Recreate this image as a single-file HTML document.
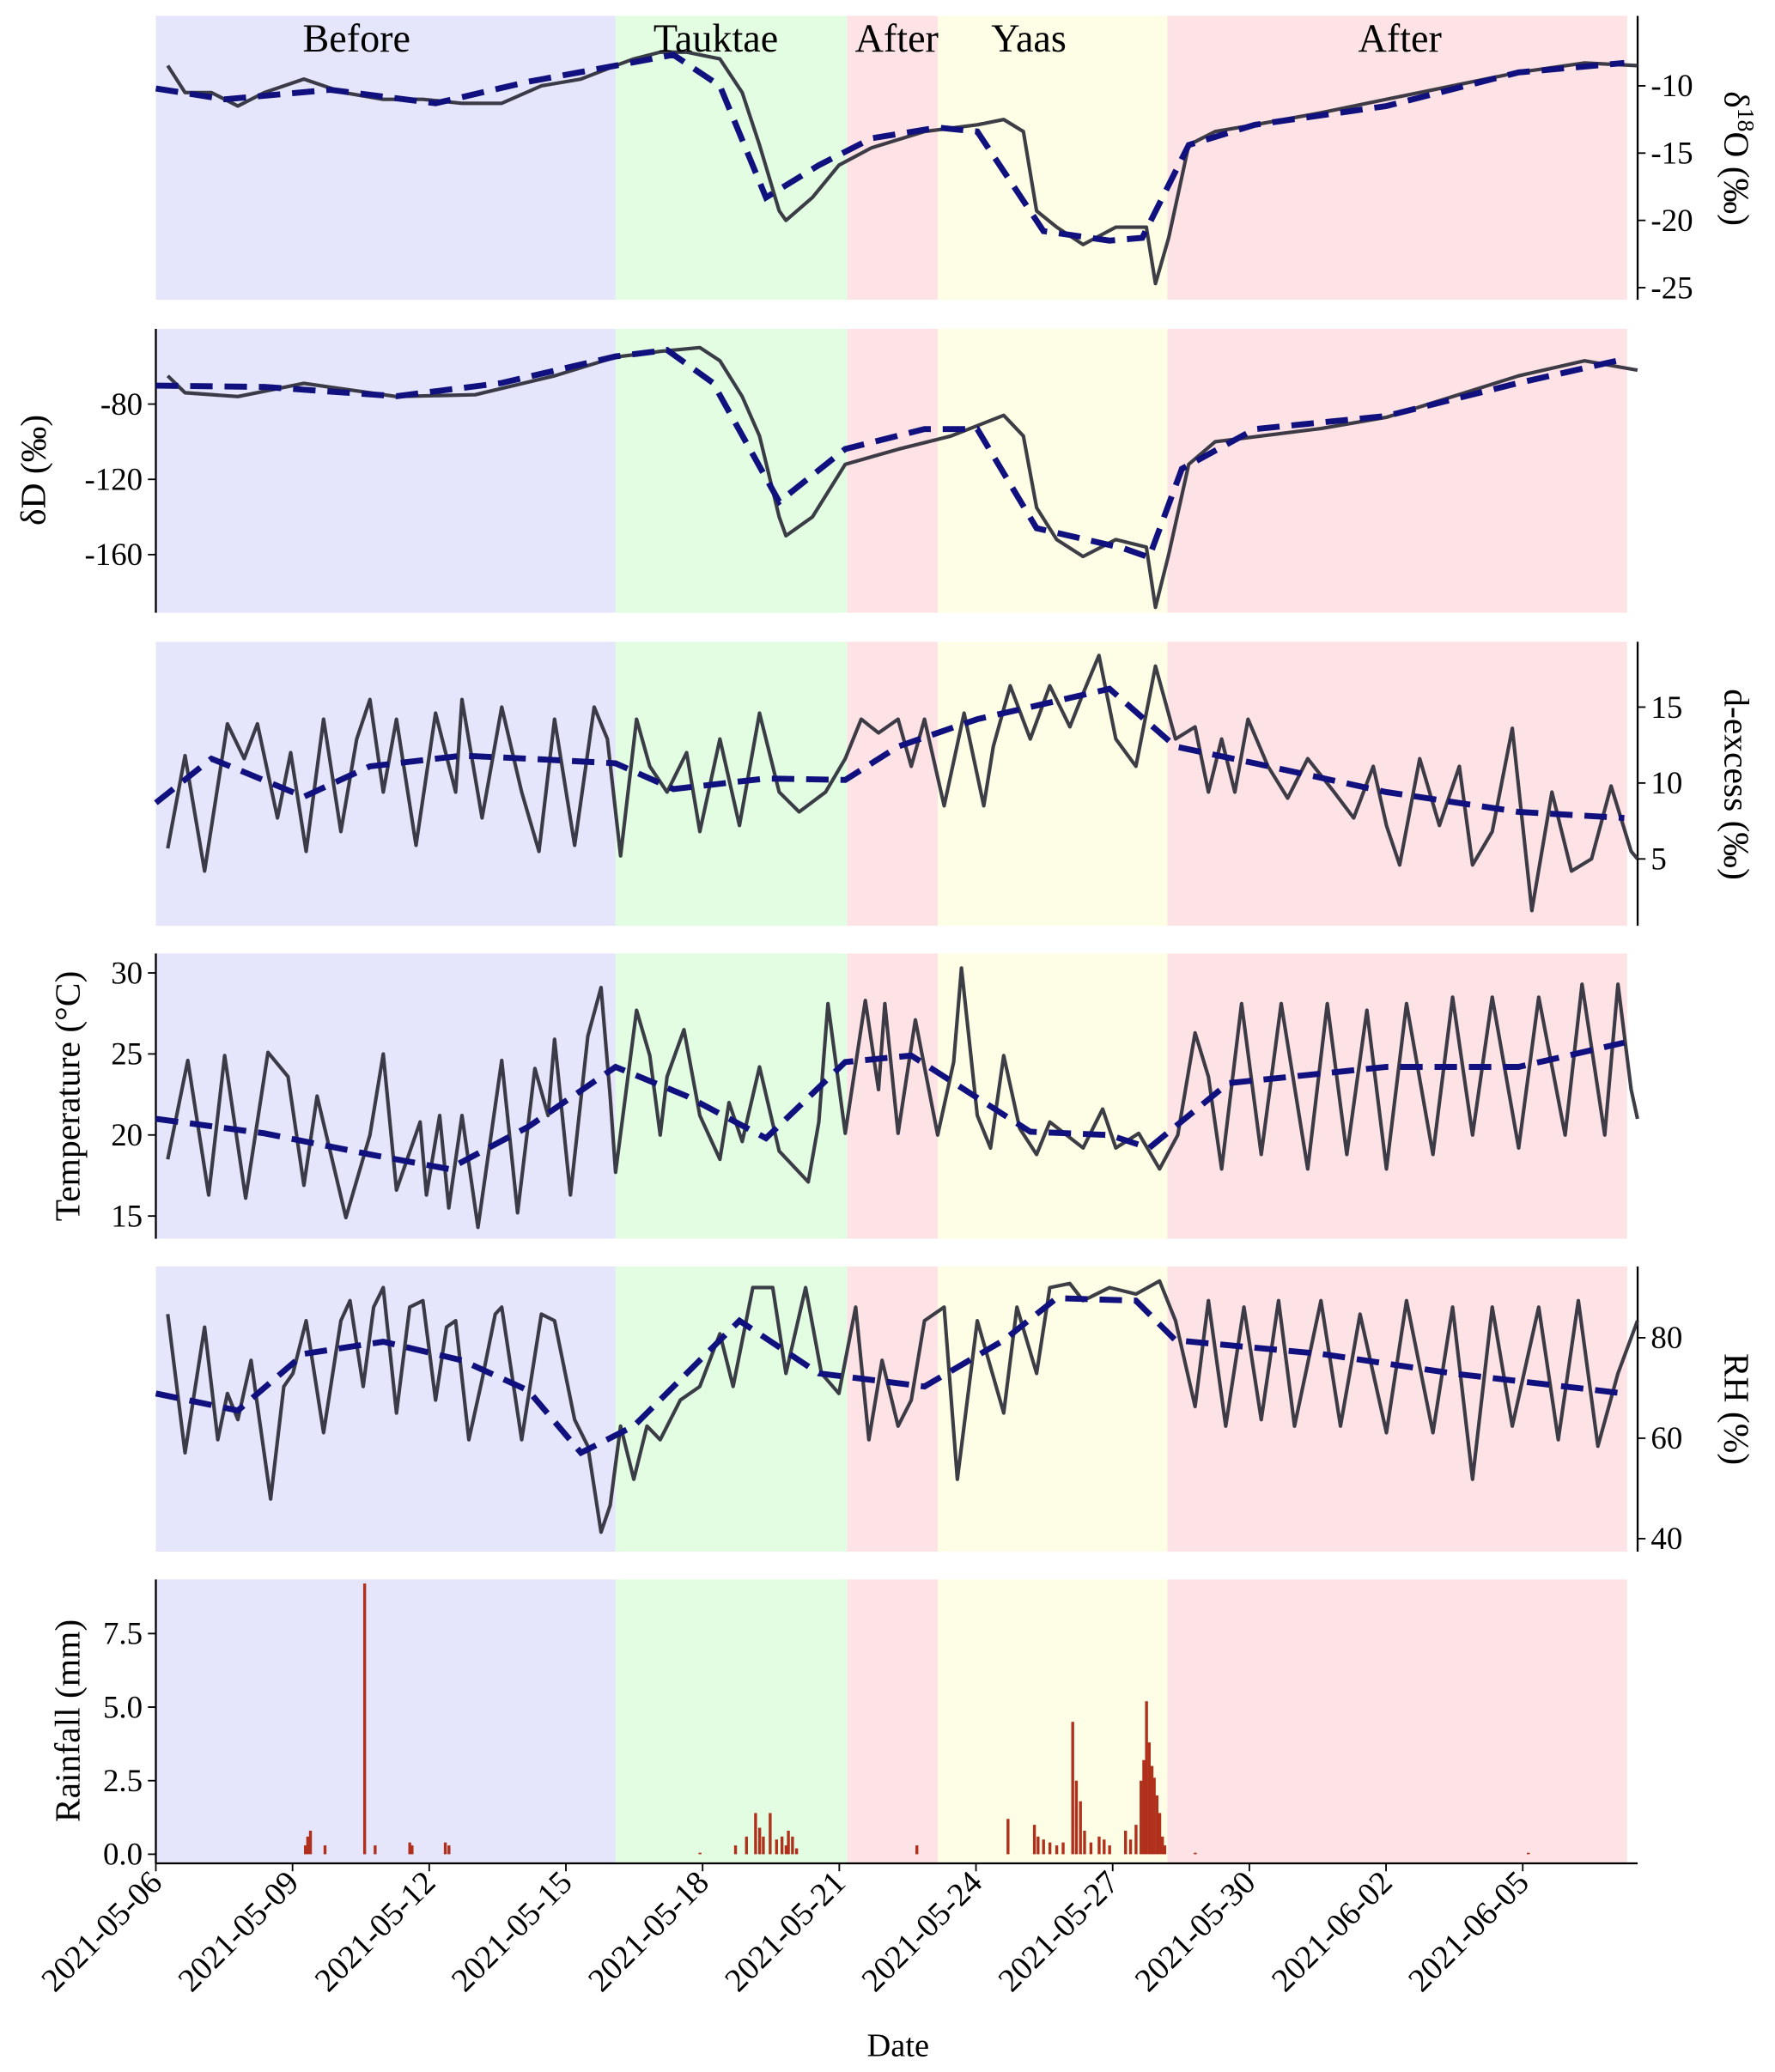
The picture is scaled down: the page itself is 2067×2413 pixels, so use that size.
<!DOCTYPE html>
<html><head><meta charset="utf-8"><style>
html,body{margin:0;padding:0;background:#fff}
svg{display:block;font-family:"Liberation Serif",serif}
</style></head><body>
<svg id="chart" width="2067" height="2413" viewBox="0 0 1344 1569" xmlns="http://www.w3.org/2000/svg"></svg>
<script>
// ---------- DATA (days since 2021-05-06 00:00) ----------
const tickDays = [0,3,6,9,12,15,18,21,24,27,30];
const tickLabels = ["2021-05-06","2021-05-09","2021-05-12","2021-05-15","2021-05-18","2021-05-21","2021-05-24","2021-05-27","2021-05-30","2021-06-02","2021-06-05"];
const periodNames = ["Before","Tauktae","After","Yaas","After"];
const periodStart = [0,10.09,15.17,17.16,22.2];
const periodEnd = [10.09,15.17,17.16,22.2,32.29];

const o18Days = [0.26,0.64,1.22,1.80,2.38,3.25,4.12,4.99,5.86,6.72,7.59,8.46,9.33,10.09,10.49,11.07,11.65,12.38,12.87,13.25,13.68,13.83,14.41,14.99,15.71,16.87,18.03,18.61,19.04,19.33,19.77,20.35,21.07,21.74,21.94,22.23,22.67,23.25,24.12,25.57,27.01,28.46,29.91,31.36,32.52];
const o18Vals = [-8.5,-10.5,-10.5,-11.5,-10.5,-9.5,-10.5,-11,-11,-11.3,-11.3,-10,-9.5,-8.5,-8,-7.5,-7.5,-8,-10.5,-14.4,-19.3,-20,-18.3,-15.9,-14.6,-13.4,-12.9,-12.5,-13.4,-19.3,-20.5,-21.8,-20.5,-20.5,-24.7,-21.3,-14.4,-13.4,-12.9,-12,-11,-10,-9,-8.3,-8.5];
const o18TrendDays = [0,1.51,3.83,6.14,8.17,10.09,11.36,12.38,13.39,14.55,15.71,17.16,18.03,19.48,20.93,21.65,22.67,24.12,27.01,29.91,32.23];
const o18TrendVals = [-10.2,-11,-10.3,-11.3,-9.7,-8.5,-7.7,-10,-18.3,-15.9,-13.9,-13.1,-13.4,-20.8,-21.5,-21.3,-14.4,-12.9,-11.5,-9,-8.3];

const dDDays = [0.26,0.64,1.80,3.25,5.28,7.01,8.75,10.09,11.07,11.94,12.38,12.87,13.25,13.68,13.83,14.41,15.13,16.29,17.45,18.61,19.04,19.33,19.77,20.35,21.07,21.74,21.94,22.23,22.67,23.25,25.57,27.01,28.46,29.91,31.36,32.52];
const dDVals = [-65,-74,-76,-69,-76,-75,-65,-55,-52,-50,-57,-76,-97,-140,-150,-140,-112,-104,-97,-86,-97,-135,-152,-161,-152,-156,-188,-160,-112,-100,-93,-87,-76,-65,-57,-62];
const dDTrendDays = [0,2.38,5.28,7.59,10.09,11.22,12.23,13.68,15.13,16.87,18.03,19.33,21.22,21.80,22.52,24.12,27.01,29.91,32.23];
const dDTrendVals = [-70.2,-70.9,-75.8,-68.8,-54.7,-51.2,-68.8,-131.9,-103.9,-93.3,-93.3,-146,-156.5,-161.4,-114.4,-93.3,-86.3,-68.8,-56.1];

const dexDays = [0.26,0.64,1.07,1.57,1.94,2.23,2.67,2.96,3.30,3.68,4.06,4.41,4.70,4.99,5.28,5.71,6.14,6.58,6.72,7.16,7.59,8.03,8.41,8.75,9.19,9.62,9.91,10.20,10.55,10.84,11.22,11.65,11.94,12.38,12.81,13.25,13.68,14.12,14.70,15.13,15.48,15.86,16.29,16.58,16.87,17.30,17.74,18.17,18.38,18.75,19.19,19.62,20.06,20.35,20.70,21.07,21.51,21.94,22.38,22.81,23.10,23.39,23.68,23.97,24.41,24.84,25.28,25.86,26.29,26.72,27.01,27.30,27.74,28.17,28.61,28.90,29.33,29.77,30.20,30.64,31.07,31.51,31.94,32.38,32.52];
const dexVals = [5.7,11.8,4.2,13.9,11.6,13.9,7.7,12.0,5.5,14.2,6.8,12.9,15.5,9.4,14.2,5.9,14.6,9.4,15.5,7.7,15.0,9.4,5.5,14.2,5.9,15.0,12.9,5.2,14.2,11.1,9.4,12.0,6.8,12.9,7.2,14.6,9.4,8.1,9.4,11.6,14.2,13.3,14.2,11.1,14.2,8.5,14.6,8.5,12.4,16.4,12.9,16.4,13.7,15.9,18.4,12.9,11.1,17.7,12.9,13.7,9.4,12.9,9.4,14.2,11.1,9.0,11.6,9.4,7.7,11.1,7.2,4.6,11.6,7.2,11.1,4.6,6.8,13.6,1.6,9.4,4.2,5.0,9.8,5.5,5.0];
const dexTrendDays = [0,1.22,3.25,4.70,6.72,8.17,10.09,11.36,13.39,15.13,16.29,18.03,20.93,22.38,24.12,27.01,29.91,32.23];
const dexTrendVals = [8.7,11.6,9.1,11.1,11.8,11.6,11.3,9.6,10.3,10.2,12.4,14.2,16.2,12.4,11.3,9.4,8.1,7.7];

const tempDays = [0.26,0.70,1.16,1.51,1.97,2.46,2.90,3.25,3.54,4.17,4.70,4.99,5.28,5.80,5.94,6.23,6.43,6.72,7.07,7.59,7.94,8.32,8.61,8.75,9.10,9.48,9.77,9.97,10.09,10.55,10.84,11.07,11.22,11.59,11.94,12.38,12.58,12.87,13.25,13.68,14.32,14.55,14.75,15.13,15.57,15.86,16.00,16.29,16.67,17.16,17.51,17.68,18.03,18.32,18.61,18.96,19.33,19.62,20.35,20.78,21.07,21.57,22.03,22.43,22.81,23.10,23.39,23.83,24.26,24.70,25.28,25.71,26.14,26.58,27.01,27.45,28.03,28.46,28.90,29.33,29.91,30.35,30.93,31.30,31.80,32.09,32.38,32.52];
const tempVals = [18.5,24.6,16.3,24.9,16.1,25.1,23.6,16.9,22.4,14.9,20.0,25.0,16.6,20.8,16.3,21.2,15.5,21.2,14.3,24.6,15.2,24.1,21.2,25.9,16.3,26.1,29.1,22.4,17.7,27.7,24.9,20.0,23.6,26.5,21.2,18.5,22.0,19.6,24.2,19.0,17.1,20.8,28.1,20.1,28.3,22.8,28.1,20.1,27.1,20.0,24.5,30.3,21.2,19.2,24.9,20.4,18.8,20.8,19.2,21.6,19.2,20.1,17.9,20.0,26.3,23.6,17.9,28.1,18.8,28.1,17.9,28.1,18.8,27.7,17.9,28.1,18.8,28.5,20.0,28.5,19.2,28.5,20.0,29.3,20.0,29.3,22.8,21.0];
const tempTrendDays = [0,2.38,4.70,6.43,8.17,10.09,11.65,13.39,15.13,16.58,19.19,20.93,21.80,23.54,27.01,29.91,32.23];
const tempTrendVals = [21.0,20.1,18.8,17.9,20.5,24.2,22.4,19.8,24.5,24.9,20.2,20.0,19.2,23.2,24.2,24.2,25.7];

const rhDays = [0.26,0.64,1.07,1.36,1.57,1.80,2.09,2.52,2.81,3.01,3.30,3.68,4.06,4.26,4.55,4.78,4.99,5.28,5.57,5.86,6.14,6.38,6.58,6.87,7.16,7.45,7.59,8.03,8.46,8.75,9.19,9.48,9.77,9.97,10.20,10.49,10.78,11.07,11.51,11.94,12.38,12.67,13.10,13.54,13.83,14.26,14.61,14.99,15.36,15.65,15.94,16.29,16.58,16.87,17.30,17.59,18.03,18.61,18.90,19.33,19.62,20.06,20.35,20.93,21.51,22.03,22.38,22.81,23.10,23.48,23.88,24.26,24.64,24.99,25.57,26.00,26.43,27.01,27.45,28.03,28.46,28.90,29.33,29.77,30.35,30.78,31.22,31.65,32.09,32.52];
const rhVals = [84.7,57.1,82.1,59.7,68.9,63.7,75.5,47.9,70.3,72.9,83.4,61.1,83.4,87.4,70.3,86.1,90.0,65.0,86.1,87.4,67.6,82.1,83.4,59.7,71.6,84.7,86.1,59.7,84.7,83.4,63.7,58.4,41.3,46.6,62.4,51.8,62.4,59.7,67.6,70.3,80.8,70.3,90.0,90.0,72.9,90.0,72.9,68.9,86.1,59.7,75.5,62.4,67.6,83.4,86.1,51.8,83.4,65.0,86.1,72.9,90.0,90.8,87.4,90.0,88.7,91.3,83.4,66.3,87.4,62.4,86.1,63.7,87.4,62.4,87.4,62.4,84.7,61.1,87.4,61.1,86.1,51.8,86.1,62.4,86.1,59.7,87.4,58.4,72.9,83.4];
const rhTrendDays = [0,1.80,3.25,4.99,6.72,8.17,9.33,10.49,12.81,14.55,16.87,18.61,19.77,21.51,22.38,25.57,28.46,32.23];
const rhTrendVals = [68.9,65.5,76.8,79.2,75.5,69.5,57.1,62.4,83.4,72.9,70.3,79.5,87.9,87.4,79.5,76.8,72.9,68.9];

const rainDays = [3.28,3.33,3.39,3.71,4.58,4.81,5.57,5.62,6.35,6.43,11.94,12.72,12.96,13.16,13.25,13.33,13.48,13.62,13.74,13.83,13.88,13.97,14.06,16.70,18.70,19.28,19.36,19.48,19.62,19.77,19.91,20.12,20.20,20.29,20.38,20.52,20.70,20.81,20.93,21.28,21.39,21.51,21.62,21.68,21.74,21.80,21.86,21.91,21.97,22.03,22.09,22.14,22.81,30.12];
const rainVals = [0.3,0.6,0.8,0.3,9.2,0.3,0.4,0.3,0.4,0.3,0.05,0.3,0.6,1.4,0.9,0.6,1.4,0.5,0.6,0.3,0.8,0.6,0.2,0.3,1.2,1.0,0.6,0.5,0.4,0.3,0.4,4.5,2.5,1.8,0.8,0.4,0.6,0.5,0.3,0.8,0.5,1.0,2.5,3.2,5.2,3.8,3.0,2.6,2.0,1.4,0.6,0.3,0.05,0.05];

const o18Ticks = [-10,-15,-20,-25];
const dDTicks = [-80,-120,-160];
const dexTicks = [5,10,15];
const tempTicks = [15,20,25,30];
const rhTicks = [40,60,80];
const rainTicks = [0,2.5,5,7.5];
const rainTickLabels = ["0.0","2.5","5.0","7.5"];

// ---------- DRAWING ----------
const NS = "http://www.w3.org/2000/svg";
const svg = document.getElementById("chart");
const X0 = 118, XR = 1240, DAYPX = 34.5;
const xS = d => X0 + d * DAYPX;
function mk(tag, attrs, parent){ const e=document.createElementNS(NS,tag); for(const k in attrs) e.setAttribute(k,attrs[k]); (parent||svg).appendChild(e); return e; }
function yScale(top,bot,vTop,vBot){ return v => top + (vTop - v) / (vTop - vBot) * (bot - top); }
const periodColors = ["#e5e5fc","#e3fde3","#fee3e6","#fefee6","#fee3e6"];

function panel(name, top, bot, vTop, vBot, side, ticks, tickLabs){
  const g = mk("g", {});
  
  
  const y = yScale(top, bot, vTop, vBot);
  periodStart.forEach((s,i)=>{
    const r = mk("rect",{x:xS(s), y:top, width:xS(periodEnd[i])-xS(s), height:bot-top, fill:periodColors[i]}, g);
    
    
  });
  const ax = side === "right" ? XR : X0;
  const sp = mk("line",{x1:ax,y1:top,x2:ax,y2:bot,stroke:"#000","stroke-width":1.5}, g);
  
  
  ticks.forEach((t,i)=>{
    const ty = y(t);
    const dx = side === "right" ? 6 : -6;
    mk("line",{x1:ax,y1:ty,x2:ax+dx,y2:ty,stroke:"#000","stroke-width":1.2}, g);
    const tx = mk("text",{x: side==="right" ? ax+10 : ax-10, y: ty+8, "font-size":24, "text-anchor": side==="right"?"start":"end", fill:"#000"}, g);
    tx.textContent = tickLabs ? tickLabs[i] : String(t);
    
    
  });
  return {g, y};
}
function line(g, y, days, vals, dashed, name){
  const d = days.map((t,i)=>(i?"L":"M")+xS(t).toFixed(1)+","+y(vals[i]).toFixed(1)).join(" ");
  const p = mk("path", dashed ? {d, fill:"none", stroke:"#10107e","stroke-width":4.5,"stroke-dasharray":"17 9"} : {d, fill:"none", stroke:"#2c2c38","stroke-width":2.7,"stroke-linejoin":"round","stroke-opacity":0.92}, g);
  
  
}
function ylabel(g, text, x, yc, rot, html){
  const t = mk("text",{x:0,y:0,"font-size":27,"text-anchor":"middle",transform:`translate(${x},${yc}) rotate(${rot})`}, g);
  if (html) t.innerHTML = html; else t.textContent = text;
  
  
}

let p = panel("d18o", 12, 227, -4.8, -25.9, "right", o18Ticks, null);
line(p.g, p.y, o18Days, o18Vals, false, "d18o-line");
line(p.g, p.y, o18TrendDays, o18TrendVals, true, "d18o-trend");
ylabel(p.g, "", 1306, 120, 90, 'δ<tspan font-size="18" dy="-10">18</tspan><tspan dy="10">O (‰)</tspan>');
const pc = [270, 542, 679, 779, 1060];
periodNames.forEach((n,i)=>{
  const t = mk("text",{x:pc[i], y:39, "font-size":30, "text-anchor":"middle"}, p.g);
  t.textContent = n;
  
  
});

p = panel("dd", 249, 464, -40, -190.9, "left", dDTicks, null);
line(p.g, p.y, dDDays, dDVals, false, "dd-line");
line(p.g, p.y, dDTrendDays, dDTrendVals, true, "dd-trend");
ylabel(p.g, "δD (‰)", 34, 356, -90);

p = panel("dexcess", 486, 701, 19.3, 0.6, "right", dexTicks, null);
line(p.g, p.y, dexDays, dexVals, false, "dexcess-line");
line(p.g, p.y, dexTrendDays, dexTrendVals, true, "dexcess-trend");
ylabel(p.g, "d-excess (‰)", 1306, 594, 90);

p = panel("temperature", 722, 938, 31.2, 13.6, "left", tempTicks, null);
line(p.g, p.y, tempDays, tempVals, false, "temperature-line");
line(p.g, p.y, tempTrendDays, tempTrendVals, true, "temperature-trend");
ylabel(p.g, "Temperature (°C)", 60, 830, -90);

p = panel("rh", 959, 1175, 94.2, 37.4, "right", rhTicks, null);
line(p.g, p.y, rhDays, rhVals, false, "rh-line");
line(p.g, p.y, rhTrendDays, rhTrendVals, true, "rh-trend");
ylabel(p.g, "RH (%)", 1306, 1067, 90);

p = panel("rainfall", 1196, 1411, 9.34, -0.31, "left", rainTicks, rainTickLabels);
rainDays.forEach((d,i)=>{
  const y0 = p.y(0), y1 = p.y(rainVals[i]);
  const b = mk("rect",{x:xS(d)-1, y:y1, width:2.2, height:Math.max(0.5,y0-y1), fill:"#b0301c"}, p.g);
  
  
});
ylabel(p.g, "Rainfall (mm)", 60, 1303, -90);
const xa = mk("line",{x1:X0,y1:1411,x2:XR,y2:1411,stroke:"#000","stroke-width":1.5});


tickDays.forEach((d,i)=>{
  const x = xS(d);
  mk("line",{x1:x,y1:1411,x2:x,y2:1417,stroke:"#000","stroke-width":1.2});
  const t = mk("text",{x:0,y:0,"font-size":25,"text-anchor":"end",transform:`translate(${x+6},${1427}) rotate(-45)`});
  t.textContent = tickLabels[i];
  
  
});
const xt = mk("text",{x:680,y:1557,"font-size":25,"text-anchor":"middle"});
xt.textContent = "Date";


</script>
</body></html>
